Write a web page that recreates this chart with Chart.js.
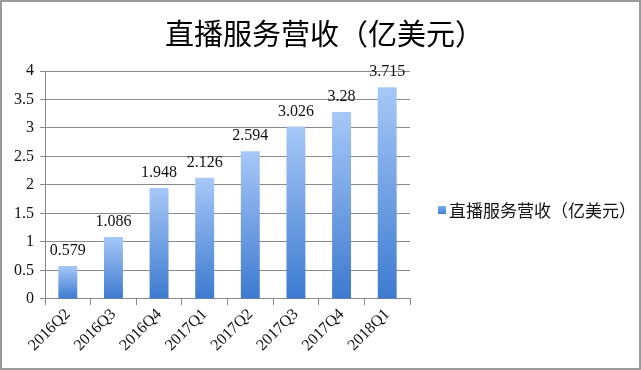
<!DOCTYPE html>
<html><head><meta charset="utf-8">
<script src="https://cdn.jsdelivr.net/npm/chart.js@4/dist/chart.umd.min.js"></script>
<style>
html,body{margin:0;padding:0;background:#fff;}
#wrap{width:641px;height:370px;box-sizing:border-box;border:2px solid #9a9a9a;position:relative;}
canvas{display:block;}
</style></head><body>
<div id="wrap"><canvas id="c" width="637" height="366"></canvas></div>
<script>
const categories = ["2016Q2","2016Q3","2016Q4","2017Q1","2017Q2","2017Q3","2017Q4","2018Q1"];
const seriesName = "直播服务营收（亿美元）";
const revenue = [0.579,1.086,1.948,2.126,2.594,3.026,3.28,3.715];
const valueLabels = ["0.579","1.086","1.948","2.126","2.594","3.026","3.28","3.715"];
const chartTitle = "直播服务营收（亿美元）";

const serif = "'Liberation Serif','DejaVu Serif',serif";
const cjk = "'Noto Sans CJK SC','Noto Sans',sans-serif";

function grad(ctx){
  const ch = ctx.chart; const a = ch.chartArea; const y = ch.scales && ch.scales.y;
  if(!a || !y || ctx.type !== 'data') return '#6a9fe6';
  const top = y.getPixelForValue(ctx.raw), bot = y.getPixelForValue(0);
  const g = ch.ctx.createLinearGradient(0, top, 0, bot);
  g.addColorStop(0,'#a6c8f7');
  g.addColorStop(1,'#3d7ad0');
  return g;
}

const labelPlugin = {
  id:'vlabels',
  afterDatasetsDraw(chart){
    const c = chart.ctx; const meta = chart.getDatasetMeta(0);
    c.save();
    c.font = "16px " + serif; c.fillStyle = '#111'; c.textAlign='center'; c.textBaseline='bottom';
    meta.data.forEach((b,i)=>{ c.fillText(valueLabels[i], b.x, b.y - 7); });
    // title across full width
    c.font = "29px " + cjk; c.fillStyle = '#000'; c.textAlign='center'; c.textBaseline='middle';
    c.fillText(chartTitle, chart.width/2 + 4, 32);
    // legend
    const ds = chart.data.datasets[0];
    const ly = 208;
    const g = c.createLinearGradient(0, ly-4, 0, ly+4);
    g.addColorStop(0,'#7fb0f2'); g.addColorStop(1,'#3f7ed6');
    c.fillStyle = g;
    c.fillRect(436, ly-4, 8, 8);
    c.font = "17px " + cjk; c.fillStyle='#111'; c.textAlign='left'; c.textBaseline='middle';
    c.fillText(ds.label, 447, ly+1);
    c.restore();
  }
};

new Chart(document.getElementById('c'),{
  type:'bar',
  data:{labels:categories,datasets:[{label:seriesName,data:revenue,backgroundColor:grad,borderWidth:0,barPercentage:0.415,categoryPercentage:1}]},
  options:{
    responsive:false,animation:false,
    layout:{padding:{left:6,right:229,top:69,bottom:13}},
    plugins:{
      title:{display:false},
      legend:{display:false},
      tooltip:{enabled:false}
    },
    scales:{
      x:{grid:{display:true,drawOnChartArea:false,offset:true,color:'#888',tickLength:6},border:{color:'#888'},
         ticks:{font:{family:serif,size:16},color:'#111',maxRotation:45,minRotation:45,padding:0}},
      y:{min:0,max:4,grid:{color:'#8a8a8a',tickLength:5},border:{color:'#888'},
         ticks:{stepSize:0.5,font:{family:serif,size:16},color:'#111',padding:6,callback:v=>String(v)}}
    }
  },
  plugins:[labelPlugin]
});
</script>
</body></html>
